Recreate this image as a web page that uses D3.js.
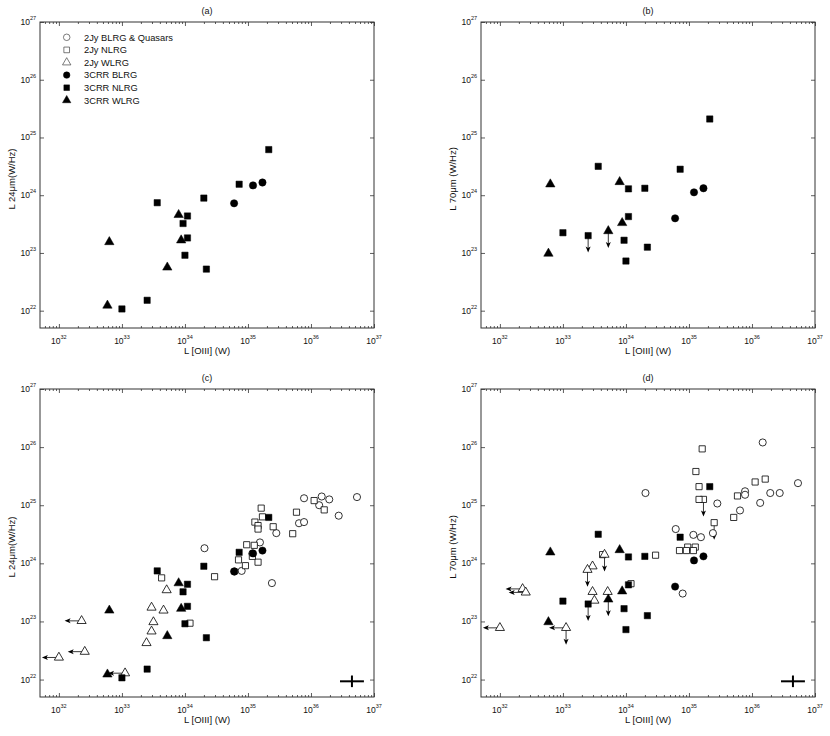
<!DOCTYPE html>
<html>
<head>
<meta charset="utf-8">
<script src="https://cdn.jsdelivr.net/npm/d3@7"></script>
<style>
  body { margin: 0; background: #fff; }
  text { font-family: "Liberation Sans", Arial, sans-serif; fill: #111; }
</style>
</head>
<body>
<div id="chart"></div>
<script>
// all values are log10 (W for [OIII], W/Hz for 24/70 micron)

// 3CRR NLRG (filled squares)
var nlrg3X   = [35.33, 34.86, 34.30, 33.56, 34.04, 34.04, 33.97, 34.00, 34.34, 33.40, 33.00];
var nlrg3Y24 = [24.79, 24.19, 23.95, 23.87, 23.64, 23.26, 23.51, 22.96, 22.72, 22.18, 22.03];
var nlrg3Y70 = [25.32, 24.45, 24.12, 24.50, 24.11, 23.63, 23.22, 22.86, 23.10, 23.30, 23.35];
var nlrg3Ul70 = [9];

// 3CRR BLRG (filled circles)
var blrg3X   = [34.78, 35.08, 35.23];
var blrg3Y24 = [23.86, 24.17, 24.22];
var blrg3Y70 = [23.60, 24.05, 24.12];

// 3CRR WLRG (filled triangles)
var wlrg3X   = [33.90, 33.94, 32.80, 33.72, 32.77];
var wlrg3Y24 = [23.66, 23.22, 23.19, 22.75, 22.09];
var wlrg3Y70 = [24.23, 23.52, 24.19, 23.38, 22.99];
var wlrg3Ul70 = [3];

// 2Jy BLRG & Quasars (open circles)
var blrg2X   = [34.31, 34.79, 34.90, 35.07, 35.19, 35.45, 35.38, 35.81, 35.89, 35.89, 36.13, 36.17, 36.29, 36.44, 36.73];
var blrg2Y24 = [24.26, 23.86, 23.87, 24.17, 24.36, 24.52, 23.66, 24.69, 24.71, 25.12, 25.00, 25.15, 25.10, 24.82, 25.14];
var blrg2Y70 = [25.21, 24.59, 23.48, 24.49, 24.45, 25.03, 24.52, 24.91, 25.24, 25.18, 25.04, 26.08, 25.21, 25.21, 25.38];

// 2Jy NLRG (open squares)
var nlrg2X   = [35.21, 35.23, 35.11, 35.16, 35.16, 35.40, 35.77, 35.71, 36.05, 36.21, 34.98, 35.10, 34.85, 34.96, 35.16, 35.07, 34.47, 33.63, 34.08];
var nlrg2Y24 = [24.95, 24.80, 24.71, 24.65, 24.59, 24.63, 24.88, 24.51, 25.08, 24.92, 24.32, 24.31, 24.06, 23.96, 24.02, 24.12, 23.77, 23.75, 22.97];
var nlrg2Y70 = [25.97, 25.10, 25.58, 25.32, 25.10, 24.70, 25.16, 24.79, 25.40, 25.45, 24.28, 24.28, 24.22, 24.22, null, 24.22, 24.14, 24.15, 23.65];
var nlrg2Ul70 = [1, 5];

// 2Jy WLRG (open triangles)
var wlrg2X   = [33.71, 33.66, 33.47, 33.50, 33.47, 33.39, 32.36, 32.41, 32.00, 33.05];
var wlrg2Y24 = [23.54, 23.19, 23.24, 22.99, 22.83, 22.63, 23.01, 22.48, 22.38, 22.11];
var wlrg2Y70 = [23.51, 24.15, 23.95, 23.36, 23.51, 23.89, 23.56, 23.50, 22.89, 22.89];
var wlrg2Ul70 = [1, 5, 9];
var wlrg2LlX = [6, 7, 8, 9];   // upper limits in [OIII]

// typical error bar (dex) drawn in the lower right of (c) and (d)
var errX = 36.65, errY = 21.97, errDx = 0.19, errDy = 0.10;

var xTickExp = [32, 33, 34, 35, 36, 37];
var yTickExp = [22, 23, 24, 25, 26, 27];

var legendNames = ["2Jy BLRG & Quasars", "2Jy NLRG", "2Jy WLRG", "3CRR BLRG", "3CRR NLRG", "3CRR WLRG"];

var svgWidth = 830;
var svgHeight = 736;

var svg = d3.select("#chart")
  .append("svg")
  .attr("width", svgWidth)
  .attr("height", svgHeight);

var shapes = { circle: d3.symbolCircle, square: d3.symbolSquare, triangle: d3.symbolTriangle };
var sizes = { circle: 42, square: 40, triangle: 38 };

var panels = [
  { name: "(a)", left: 40, top: 22, bottom: 328, band: "24", full: false, legend: true },
  { name: "(b)", left: 481, top: 22, bottom: 328, band: "70", full: false, legend: false },
  { name: "(c)", left: 40, top: 389, bottom: 697, band: "24", full: true, legend: false },
  { name: "(d)", left: 481, top: 389, bottom: 697, band: "70", full: true, legend: false }
];

function p10(v) { return Math.pow(10, v); }

function makeSeries(xs, ys, shape, filled, ul, ll) {
  return xs.map(function(v, i) {
    return { x: v, y: ys[i], shape: shape, filled: filled,
             ul: (ul || []).indexOf(i) >= 0, ll: (ll || []).indexOf(i) >= 0 };
  }).filter(function(d) { return d.y !== null; });
}

panels.forEach(function(p) {
  var width = 334;
  var height = p.bottom - p.top;
  var g = svg.append("g").attr("transform", `translate(${p.left}, ${p.top})`);

  var xScale = d3.scaleLog().domain([p10(31.7), p10(37)]).range([0, width]);
  var yScale = d3.scaleLog().domain([p10(21.7), p10(27)]).range([height, 0]);

  // ticks, inward on all four sides
  var xMajor = xTickExp.map(p10);
  var yMajor = yTickExp.map(p10);
  var xMinor = [], yMinor = [];
  for (var e = 31; e < 37; e++) {
    for (var k = 2; k < 10; k++) {
      if (Math.log10(k) + e > 31.7) xMinor.push(k * p10(e));
      if (Math.log10(k) + e > 21.7 && e < 27) yMinor.push(k * p10(e));
    }
  }
  [[xMajor, 4], [xMinor, 2]].forEach(function(t) {
    g.append("g").attr("transform", `translate(0, ${height})`)
      .call(d3.axisBottom(xScale).tickValues(t[0]).tickSizeInner(-t[1]).tickSizeOuter(0).tickFormat(""));
    g.append("g")
      .call(d3.axisTop(xScale).tickValues(t[0]).tickSizeInner(-t[1]).tickSizeOuter(0).tickFormat(""));
  });
  [[yMajor, 4], [yMinor, 2]].forEach(function(t) {
    g.append("g")
      .call(d3.axisLeft(yScale).tickValues(t[0]).tickSizeInner(-t[1]).tickSizeOuter(0).tickFormat(""));
    g.append("g").attr("transform", `translate(${width}, 0)`)
      .call(d3.axisRight(yScale).tickValues(t[0]).tickSizeInner(-t[1]).tickSizeOuter(0).tickFormat(""));
  });
  g.selectAll(".domain").remove();
  g.selectAll(".tick line").attr("stroke", "#333").attr("stroke-width", 0.8);

  g.append("rect")
    .attr("width", width).attr("height", height)
    .attr("fill", "none").attr("stroke", "#333").attr("stroke-width", 1);

  // tick labels 10^n
  xTickExp.forEach(function(n) {
    var t = g.append("text")
      .attr("x", xScale(p10(n))).attr("y", height + 15.5)
      .attr("text-anchor", "middle").attr("font-size", "8.5px");
    t.append("tspan").text("10");
    t.append("tspan").attr("dy", -5).attr("font-size", "5.5px").text(n);
  });
  yTickExp.forEach(function(n) {
    var t = g.append("text")
      .attr("x", -4).attr("y", yScale(p10(n)) + 3)
      .attr("text-anchor", "end").attr("font-size", "8.5px");
    t.append("tspan").text("10");
    t.append("tspan").attr("dy", -5).attr("font-size", "5.5px").text(n);
  });

  // titles
  g.append("text")
    .attr("x", width / 2).attr("y", -8.5)
    .attr("text-anchor", "middle").attr("font-size", "9px")
    .text(p.name);
  g.append("text")
    .attr("x", width / 2).attr("y", height + 26)
    .attr("text-anchor", "middle").attr("font-size", "9.5px")
    .text("L [OIII] (W)");
  g.append("text")
    .attr("transform", "rotate(-90)")
    .attr("x", -(height / 2) - 4).attr("y", -25.5)
    .attr("text-anchor", "middle").attr("font-size", "9.5px")
    .text(p.band === "24" ? "L 24\u03bcm(W/Hz)" : "L 70\u03bcm (W/Hz)");

  // data
  var is24 = p.band === "24";
  var pts = [];
  if (p.full) {
    pts = pts.concat(
      makeSeries(blrg2X, is24 ? blrg2Y24 : blrg2Y70, "circle", false),
      makeSeries(nlrg2X, is24 ? nlrg2Y24 : nlrg2Y70, "square", false, is24 ? [] : nlrg2Ul70),
      makeSeries(wlrg2X, is24 ? wlrg2Y24 : wlrg2Y70, "triangle", false, is24 ? [] : wlrg2Ul70, wlrg2LlX)
    );
  }
  pts = pts.concat(
    makeSeries(nlrg3X, is24 ? nlrg3Y24 : nlrg3Y70, "square", true, is24 ? [] : nlrg3Ul70),
    makeSeries(blrg3X, is24 ? blrg3Y24 : blrg3Y70, "circle", true),
    makeSeries(wlrg3X, is24 ? wlrg3Y24 : wlrg3Y70, "triangle", true, is24 ? [] : wlrg3Ul70)
  );

  var arrowLen = 17;
  var arrows = g.append("g");
  pts.filter(function(d) { return d.ul; }).forEach(function(d) {
    var cx = xScale(p10(d.x)), cy = yScale(p10(d.y));
    arrows.append("line").attr("x1", cx).attr("y1", cy).attr("x2", cx).attr("y2", cy + arrowLen - 3)
      .attr("stroke", "#222").attr("stroke-width", 0.9);
    arrows.append("path")
      .attr("d", `M${cx - 2.5},${cy + arrowLen - 6}L${cx},${cy + arrowLen - 4.5}L${cx + 2.5},${cy + arrowLen - 6}L${cx},${cy + arrowLen}Z`)
      .attr("fill", "#000");
  });
  pts.filter(function(d) { return d.ll; }).forEach(function(d) {
    var cx = xScale(p10(d.x)), cy = yScale(p10(d.y));
    arrows.append("line").attr("x1", cx).attr("y1", cy).attr("x2", cx - arrowLen + 3).attr("y2", cy)
      .attr("stroke", "#222").attr("stroke-width", 0.9);
    arrows.append("path")
      .attr("d", `M${cx - arrowLen + 6},${cy - 2.5}L${cx - arrowLen + 4.5},${cy}L${cx - arrowLen + 6},${cy + 2.5}L${cx - arrowLen},${cy}Z`)
      .attr("fill", "#000");
  });

  g.append("g").selectAll("path")
    .data(pts)
    .enter()
    .append("path")
    .attr("transform", function(d) { return `translate(${xScale(p10(d.x))}, ${yScale(p10(d.y))})`; })
    .attr("d", function(d) { return d3.symbol().type(shapes[d.shape]).size(d.filled ? sizes[d.shape] : sizes[d.shape] * 0.95)(); })
    .attr("fill", function(d) { return d.filled ? "#000" : "#fff"; })
    .attr("stroke", "#000")
    .attr("stroke-width", function(d) { return d.filled ? 0.5 : 0.8; });

  // representative error bar
  if (p.full) {
    var ex = xScale(p10(errX)), ey = yScale(p10(errY));
    g.append("line")
      .attr("x1", xScale(p10(errX - errDx))).attr("x2", xScale(p10(errX + errDx)))
      .attr("y1", ey).attr("y2", ey)
      .attr("stroke", "#000").attr("stroke-width", 2);
    g.append("line")
      .attr("x1", ex).attr("x2", ex)
      .attr("y1", yScale(p10(errY - errDy))).attr("y2", yScale(p10(errY + errDy)))
      .attr("stroke", "#000").attr("stroke-width", 2);
  }

  // legend
  if (p.legend) {
    var legendShapes = ["circle", "square", "triangle", "circle", "square", "triangle"];
    legendNames.forEach(function(name, i) {
      var ly = 15.3 + i * 12.6;
      var filled = i >= 3;
      g.append("path")
        .attr("transform", `translate(26.7, ${ly})`)
        .attr("d", d3.symbol().type(shapes[legendShapes[i]]).size(sizes[legendShapes[i]] * 0.8)())
        .attr("fill", filled ? "#000" : "#fff")
        .attr("stroke", filled ? "#000" : "#444")
        .attr("stroke-width", filled ? 0.5 : 0.7);
      g.append("text")
        .attr("x", 44).attr("y", ly + 3.3)
        .attr("font-size", "9.3px")
        .text(name);
    });
  }
});
</script>
</body>
</html>
